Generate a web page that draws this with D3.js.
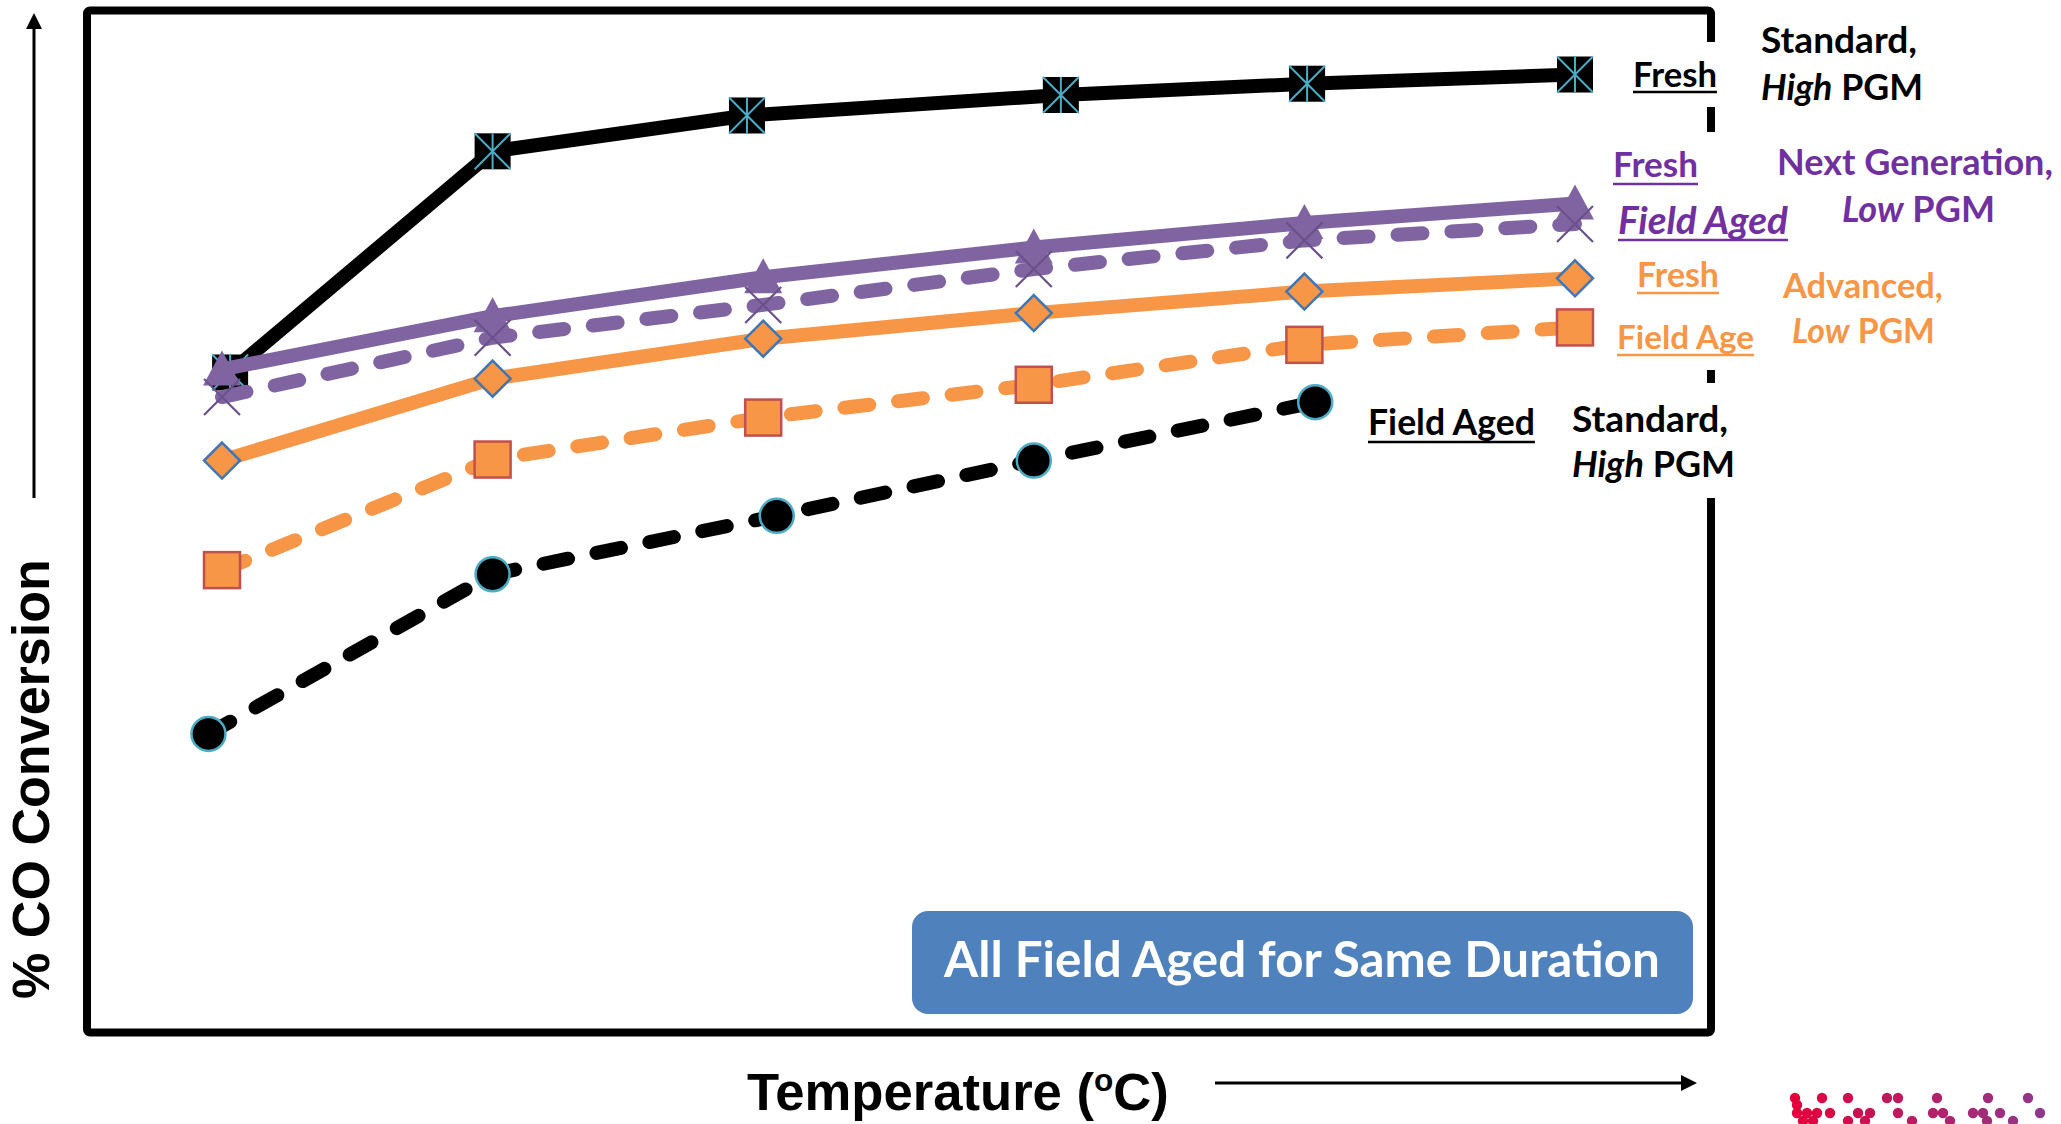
<!DOCTYPE html>
<html><head><meta charset="utf-8">
<script src="https://cdn.jsdelivr.net/npm/d3@7"></script>
<style>html,body{margin:0;padding:0;background:#fff;overflow:hidden}</style>
</head><body>
<svg id="chart" width="2061" height="1124"></svg>
<script>
// ---------------- DATA ----------------
const temperatureSteps = [1, 2, 3, 4, 5, 6];           // relative temperature steps (no tick labels in source)
const stdFreshTemp  = [1.03, 2.0, 2.94, 4.10, 5.01, 6.0];
const stdFreshCO    = [64.6, 86.2, 89.7, 91.7, 92.8, 93.7];
const stdAgedTemp   = [0.95, 2.0, 3.05, 4.0, 5.04];
const stdAgedCO     = [29.3, 44.9, 50.6, 56.0, 61.7];
const nextFreshCO   = [64.9, 70.1, 73.9, 76.8, 79.2, 81.1];
const nextAgedCO    = [62.2, 68.0, 71.2, 74.7, 77.5, 79.1];
const advFreshCO    = [56.0, 64.0, 67.9, 70.4, 72.5, 73.8];
const advAgedCO     = [45.3, 56.1, 60.2, 63.4, 67.3, 69.0];

const xTitle = ["Temperature (", "o", "C)"];
const yTitle = "% CO Conversion";
const noteText = "All Field Aged for Same Duration";
const stateLabels = ["Fresh", "Field Aged", "Field Age"];
const groupLabels = [["Standard,", ["High", " PGM"]], ["Next Generation,", ["Low", " PGM"]], ["Advanced,", ["Low", " PGM"]]];

// ---------------- SETUP ----------------
const svg = d3.select("#chart");
const x = d3.scaleLinear().domain([1, 6]).range([222, 1575]);
const y = d3.scaleLinear().domain([0, 100]).range([1034, 10]);

const PURPLE = "#8064A2", ORANGE = "#F79646", TEAL = "#4BACC6";
const LBL_FONT = "Lato, 'Open Sans', 'Noto Sans', sans-serif";
const AX_FONT = "'Liberation Sans', Arial, sans-serif";

// frame
svg.append("rect").attr("x", 87).attr("y", 10.5).attr("width", 1624).attr("height", 1022)
  .attr("fill", "none").attr("stroke", "#000").attr("stroke-width", 8).attr("rx", 3)
  .attr("stroke-linejoin", "round");

function zip(ts, vs) { return vs.map((v, i) => ({t: ts[i], v})); }
const series = [
  {name: "stdFresh", pts: zip(stdFreshTemp, stdFreshCO), color: "#000", dash: null, marker: "starSquare"},
  {name: "stdAged", pts: zip(stdAgedTemp, stdAgedCO), color: "#000", dash: "25,29", marker: "circle"},
  {name: "advAged", pts: zip(temperatureSteps, advAgedCO), color: ORANGE, dash: "25,29", marker: "square"},
  {name: "advFresh", pts: zip(temperatureSteps, advFreshCO), color: ORANGE, dash: null, marker: "diamond"},
  {name: "nextFresh", pts: zip(temperatureSteps, nextFreshCO), color: PURPLE, dash: null, marker: "triangle"},
  {name: "nextAged", pts: zip(temperatureSteps, nextAgedCO), color: PURPLE, dash: "25,29", marker: "x"},
];

const line = d3.line().x(d => x(d.t)).y(d => y(d.v));

function drawMarker(g, type) {
  if (type === "starSquare") {
    g.append("rect").attr("x", -18).attr("y", -18).attr("width", 36).attr("height", 36).attr("fill", "#000");
    g.append("path").attr("d", "M-18,-18L18,18M18,-18L-18,18M0,-18L0,18")
      .attr("stroke", TEAL).attr("stroke-width", 2).attr("fill", "none");
  } else if (type === "circle") {
    g.append("circle").attr("r", 17).attr("fill", "#000").attr("stroke", TEAL).attr("stroke-width", 2.5);
  } else if (type === "square") {
    g.append("rect").attr("x", -18).attr("y", -18).attr("width", 36).attr("height", 36)
      .attr("fill", ORANGE).attr("stroke", "#C0504D").attr("stroke-width", 2.5);
  } else if (type === "diamond") {
    g.append("path").attr("d", "M0,-18L18,0L0,18L-18,0Z")
      .attr("fill", ORANGE).attr("stroke", "#3F76B5").attr("stroke-width", 2.5);
  } else if (type === "triangle") {
    g.append("path").attr("d", "M0,-19L19,16L-19,16Z").attr("fill", PURPLE);
  } else if (type === "x") {
    g.append("path").attr("d", "M-18,-18L18,18M18,-18L-18,18")
      .attr("stroke", "#6A5189").attr("stroke-width", 2.2).attr("fill", "none");
  }
}

series.forEach(s => {
  const g = svg.append("g").attr("class", "series " + s.name);
  g.append("path").datum(s.pts).attr("d", line).attr("fill", "none")
    .attr("stroke", s.color).attr("stroke-width", 14)
    .attr("stroke-linejoin", "round").attr("stroke-linecap", s.dash ? "round" : "butt")
    .attr("stroke-dasharray", s.dash);
  g.selectAll("g.m").data(s.pts).join("g").attr("class", "m")
    .attr("transform", d => `translate(${x(d.t)},${y(d.v)})`)
    .each(function() { drawMarker(d3.select(this), s.marker); });
});

// white label boxes interrupting right frame
[[42, 107], [132, 370], [383, 498]].forEach(([a, b]) => {
  svg.append("rect").attr("x", 1700).attr("y", a).attr("width", 24).attr("height", b - a).attr("fill", "#fff");
});

// ---------------- LABELS ----------------
function fitText(t, target) {
  const w = t.node().getComputedTextLength();
  const fs = parseFloat(t.attr("font-size"));
  t.attr("font-size", fs * target / w);
}
function label(parts, lx, by, width, color, opts = {}) {
  const t = svg.append("text").attr("x", lx).attr("y", by).attr("fill", color)
    .attr("font-family", LBL_FONT).attr("font-weight", 700).attr("font-size", 35);
  parts.forEach(([txt, it]) => t.append("tspan").text(txt).attr("font-style", it ? "italic" : "normal"));
  fitText(t, width);
  if (opts.ul) {
    const bb = t.node().getBBox();
    svg.append("line").attr("x1", bb.x).attr("x2", bb.x + bb.width).attr("y1", opts.ul).attr("y2", opts.ul)
      .attr("stroke", color).attr("stroke-width", 2.6);
  }
  return t;
}
const LP = "#7030A0";
label([[stateLabels[0], false]], 1633, 87, 84, "#000", {ul: 92});
label([[groupLabels[0][0], false]], 1761, 53, 156, "#000");
label([[groupLabels[0][1][0], true], [groupLabels[0][1][1], false]], 1761, 100, 162, "#000");

label([[stateLabels[0], false]], 1613, 177, 85, LP, {ul: 184});
label([[stateLabels[1], true]], 1618, 234, 170, LP, {ul: 240});
label([[groupLabels[1][0], false]], 1777, 175, 276, LP);
label([[groupLabels[1][1][0], true], [groupLabels[1][1][1], false]], 1842, 222, 153, LP);

label([[stateLabels[0], false]], 1637, 287, 82, ORANGE, {ul: 293});
label([[stateLabels[2], false]], 1617, 349, 137, ORANGE, {ul: 355});
label([[groupLabels[2][0], false]], 1783, 298, 160, ORANGE);
label([[groupLabels[2][1][0], true], [groupLabels[2][1][1], false]], 1792, 343, 143, ORANGE);

label([[stateLabels[1], false]], 1368, 435, 167, "#000", {ul: 442});
label([[groupLabels[0][0], false]], 1572, 432, 156, "#000");
label([[groupLabels[0][1][0], true], [groupLabels[0][1][1], false]], 1572, 477, 163, "#000");

// note box
svg.append("rect").attr("x", 912).attr("y", 911).attr("width", 781).attr("height", 103).attr("rx", 16)
  .attr("fill", "#4F81BD");
label([[noteText, false]], 944, 977, 716, "#fff");

// ---------------- AXES ----------------
// y arrow
svg.append("line").attr("x1", 34).attr("x2", 34).attr("y1", 498).attr("y2", 26)
  .attr("stroke", "#000").attr("stroke-width", 3);
svg.append("path").attr("d", "M34,13L26,29L42,29Z").attr("fill", "#000");
// x arrow
svg.append("line").attr("x1", 1215).attr("x2", 1684).attr("y1", 1083).attr("y2", 1083)
  .attr("stroke", "#000").attr("stroke-width", 3);
svg.append("path").attr("d", "M1697,1083L1681,1075L1681,1091Z").attr("fill", "#000");

const xt = svg.append("text").attr("x", 747).attr("y", 1110).attr("font-family", AX_FONT)
  .attr("font-weight", 700).attr("font-size", 52).attr("fill", "#000");
xt.append("tspan").text(xTitle[0]);
xt.append("tspan").text(xTitle[1]).attr("font-size", "0.6em").attr("dy", -19);
xt.append("tspan").text(xTitle[2]).attr("dy", 19);
fitText(xt, 422);

const yt = svg.append("text").attr("transform", "translate(49,779) rotate(-90)")
  .attr("text-anchor", "middle").attr("font-family", AX_FONT).attr("font-weight", 700)
  .attr("font-size", 52).attr("fill", "#000").text(yTitle);
fitText(yt, 440);

// ---------------- LOGO FRAGMENT (bottom-right) ----------------
const logoDotsX = [1795,1822,1848,1887,1898,1937,1988,2028,
                   1797,1807,1817,1830,1858,1870,1898,1933,1943,1973,1983,2000,2040,
                   1803,1813,1848,1865,1912,1950,1987,2013,1797];
const logoDotsY = [1098,1098,1098,1098,1098,1098,1098,1098,
                   1113,1113,1113,1113,1113,1113,1113,1113,1113,1113,1113,1113,1113,
                   1121,1121,1121,1121,1121,1121,1121,1121,1105];
const logoColor = d3.scaleLinear().domain([1790, 2050]).range(["#E5003A", "#8B3A8F"]);
svg.append("g").selectAll("circle").data(logoDotsX).join("circle")
  .attr("cx", d => d).attr("cy", (d, i) => logoDotsY[i]).attr("r", 5.2)
  .attr("fill", d => logoColor(d));
</script>
</body></html>
